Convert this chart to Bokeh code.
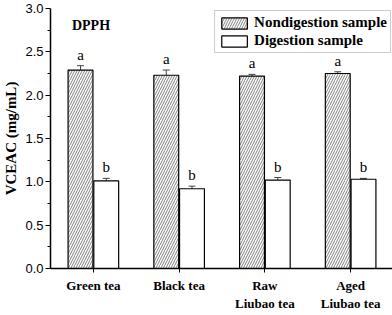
from bokeh.plotting import figure
from bokeh.models import (ColumnDataSource, Whisker, TeeHead, Legend, LegendItem,
                          FixedTicker, Range1d, Label, PrintfTickFormatter)
from bokeh.core.properties import value
from bokeh.embed import file_html
from bokeh.resources import INLINE

categories = ["Green tea", "Black tea", "Raw\nLiubao tea", "Aged\nLiubao tea"]
nondigestion = [2.29, 2.23, 2.22, 2.25]
nondigestion_err = [0.05, 0.06, 0.02, 0.02]
digestion = [1.01, 0.92, 1.02, 1.03]
digestion_err = [0.03, 0.03, 0.03, 0.01]
letters_nd = ["a", "a", "a", "a"]
letters_d = ["b", "b", "b", "b"]
y_ticks = [0.0, 0.5, 1.0, 1.5, 2.0, 2.5, 3.0]

xs = list(range(len(categories)))
off = 0.15
w = 0.29

src_nd = ColumnDataSource(dict(x=[x - off for x in xs], top=nondigestion,
                               lo=[v - e for v, e in zip(nondigestion, nondigestion_err)],
                               hi=[v + e for v, e in zip(nondigestion, nondigestion_err)],
                               lab=letters_nd))
src_d = ColumnDataSource(dict(x=[x + off for x in xs], top=digestion,
                              lo=[v - e for v, e in zip(digestion, digestion_err)],
                              hi=[v + e for v, e in zip(digestion, digestion_err)],
                              lab=letters_d))

p = figure(frame_width=343, frame_height=260, output_backend="svg", toolbar_location=None,
           x_range=Range1d(-0.5, 3.5), y_range=Range1d(0, 3.0),
           min_border_left=40, min_border_right=0, min_border_top=8, min_border_bottom=30)
p.outline_line_color = None
p.grid.visible = False
p.background_fill_color = "white"

r_nd = p.vbar(x="x", top="top", width=w, source=src_nd, fill_color="white",
              line_color="black", line_width=1.2, hatch_pattern="/",
              hatch_color="#808080", hatch_scale=5, hatch_weight=1)
r_d = p.vbar(x="x", top="top", width=w, source=src_d, fill_color="white",
             line_color="black", line_width=1.2)

for s in (src_nd, src_d):
    wk = Whisker(base="x", lower="lo", upper="hi", source=s, line_color="#444444",
                 line_width=1,
                 upper_head=TeeHead(size=7, line_color="#444444", line_width=1),
                 lower_head=TeeHead(size=7, line_color="#444444", line_width=1))
    p.add_layout(wk)
    p.text(x="x", y="hi", text="lab", source=s, text_align="center",
           text_baseline="bottom", y_offset=-3, text_font=value("Liberation Serif"),
           text_font_size="15px", text_color="#000000")

p.add_layout(Label(x=-0.25, y=2.72, text="DPPH", text_font="Liberation Serif",
                   text_font_style="bold", text_font_size="14px", text_color="#000000"))

# axes
p.yaxis.ticker = FixedTicker(ticks=y_ticks, minor_ticks=[0.25 + 0.5 * i for i in range(6)])
p.yaxis.formatter = PrintfTickFormatter(format="%.1f")
p.yaxis.axis_label = "VCEAC (mg/mL)"
p.yaxis.axis_label_text_font = "Liberation Serif"
p.yaxis.axis_label_text_font_style = "bold"
p.yaxis.axis_label_text_font_size = "15px"
p.yaxis.axis_label_standoff = 3
p.yaxis.major_label_text_font = "Liberation Sans"
p.yaxis.major_label_text_font_size = "13px"
p.yaxis.major_label_standoff = 2
p.yaxis.major_tick_out = 5
p.yaxis.major_tick_in = 0
p.yaxis.minor_tick_out = 3
p.yaxis.minor_tick_in = 0
p.yaxis.axis_line_width = 1.5

p.xaxis.ticker = FixedTicker(ticks=xs)
p.xaxis.major_label_overrides = {i: c for i, c in enumerate(categories)}
p.xaxis.major_label_text_font = "Liberation Serif"
p.xaxis.major_label_text_font_style = "bold"
p.xaxis.major_label_text_font_size = "13px"
p.xaxis.major_label_standoff = 5
p.xaxis.major_tick_out = 4
p.xaxis.major_tick_in = 0
p.xaxis.minor_tick_line_color = None
p.xaxis.axis_line_width = 1.5

for ax in (p.xaxis, p.yaxis):
    ax.axis_line_color = "black"
    ax.major_tick_line_color = "black"
    ax.major_label_text_color = "black"
    ax.axis_label_text_color = "black"
p.yaxis.minor_tick_line_color = "black"

legend = Legend(items=[LegendItem(label="Nondigestion sample", renderers=[r_nd]),
                       LegendItem(label="Digestion sample", renderers=[r_d])],
                location="top_right")
legend.label_text_font = "Liberation Serif"
legend.label_text_font_style = "bold"
legend.label_text_font_size = "15px"
legend.label_text_color = "black"
legend.glyph_width = 32
legend.glyph_height = 14
legend.label_height = 14
legend.spacing = 1
legend.padding = 3
legend.margin = 2
legend.label_standoff = 4
legend.border_line_color = "#999999"
legend.border_line_width = 1.5
legend.background_fill_alpha = 1
p.add_layout(legend)

open("out.html", "w").write(file_html(p, INLINE))
